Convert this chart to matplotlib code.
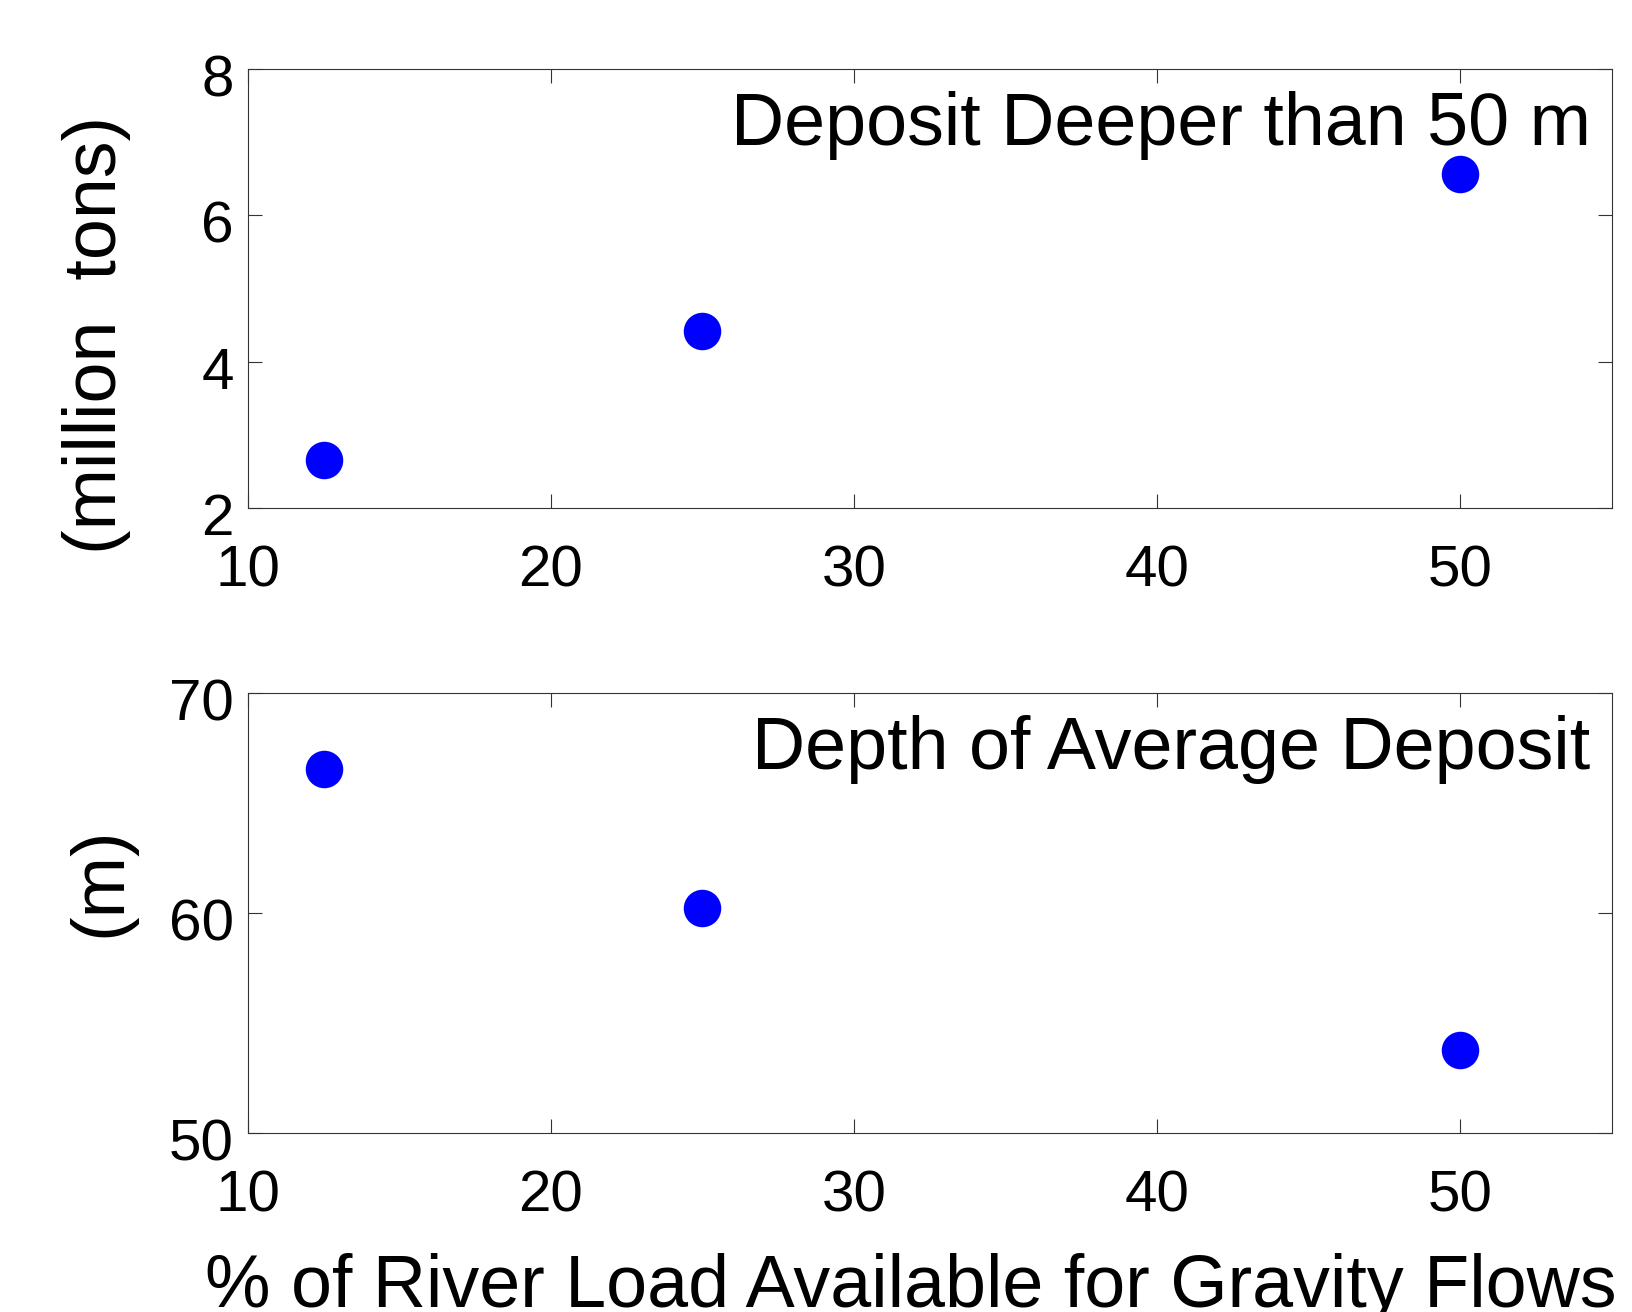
import matplotlib
matplotlib.use("Agg")
import matplotlib.pyplot as plt
from matplotlib.transforms import ScaledTranslation

plt.rcParams['font.family'] = ['Liberation Sans', 'DejaVu Sans']

# data
pct_available = [12.5, 25, 50]
deep_deposit = [2.66, 4.42, 6.56]      # million tons deeper than 50 m
avg_depth = [66.55, 60.26, 53.79]      # m

x_ticks = [10, 20, 30, 40, 50]
top_yticks = [2, 4, 6, 8]
bot_yticks = [50, 60, 70]

fig = plt.figure(figsize=(16.32, 13.12), dpi=100)
ax1 = fig.add_axes([0.1518, 0.6126, 0.8358, 0.3348])
ax2 = fig.add_axes([0.1518, 0.1362, 0.8358, 0.3354])


def style_axis(ax, yticks, ylim):
    ax.set_xlim(10, 55)
    ax.set_ylim(*ylim)
    ax.set_xticks(x_ticks)
    ax.set_yticks(yticks)
    ax.tick_params(direction='in', length=10, width=0.8, color='#333333',
                   top=True, right=True, labelsize=42)
    ax.tick_params(axis='x', pad=26)
    ax.tick_params(axis='y', pad=10)
    for s in ax.spines.values():
        s.set_linewidth(0.8)
        s.set_color('#333333')
    # MATLAB-ish: y labels sit a little below their ticks
    off = ScaledTranslation(0, -6 / 100, fig.dpi_scale_trans)
    for lab in ax.get_yticklabels():
        lab.set_transform(lab.get_transform() + off)


ax1.plot(pct_available, deep_deposit, 'o', color='#0000ff', markersize=27,
         markeredgewidth=0)
style_axis(ax1, top_yticks, (2, 8))
ax1.text(0.9845, 0.95, 'Deposit Deeper than 50 m', transform=ax1.transAxes,
         ha='right', va='top', fontsize=53)
ax1.set_ylabel('(million  tons)', fontsize=53, va='center')
ax1.yaxis.set_label_coords(-0.111, 0.394)

ax2.plot(pct_available, avg_depth, 'o', color='#0000ff', markersize=27,
         markeredgewidth=0)
style_axis(ax2, bot_yticks, (50, 70))
ax2.text(0.9845, 0.95, 'Depth of Average Deposit', transform=ax2.transAxes,
         ha='right', va='top', fontsize=53)
ax2.set_ylabel('(m)', fontsize=53, va='center')
ax2.yaxis.set_label_coords(-0.108, 0.571)

ax2.set_xlabel('% of River Load Available for Gravity Flows', fontsize=53,
               va='baseline')
ax2.xaxis.set_label_coords(0.486, -0.394)

fig.savefig('out.png', dpi=100)
